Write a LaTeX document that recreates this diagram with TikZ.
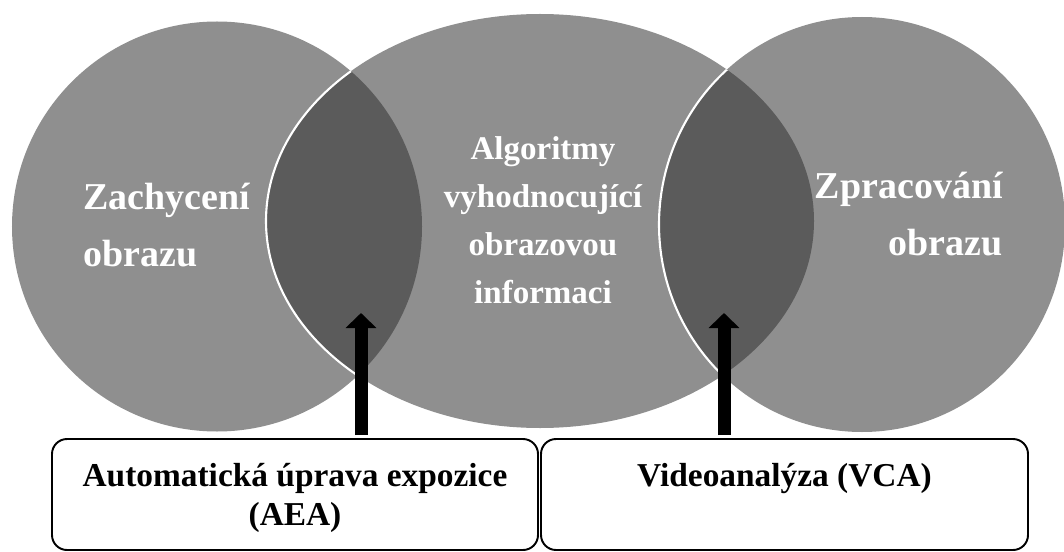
\documentclass[tikz,border=0pt]{standalone}
\usepackage{fontspec}
\setmainfont{Liberation Serif}
\usetikzlibrary{arrows.meta}
\definecolor{circlegray}{RGB}{143,143,143}
\definecolor{lensgray}{RGB}{91,91,91}
\tikzset{
  sidetext/.style={text=white, font=\fontsize{21.6}{31.9}\selectfont\bfseries},
  midtext/.style={text=white, font=\fontsize{18.8}{27.3}\selectfont\bfseries, align=center},
  boxnode/.style={draw, line width=1.1pt, rounded corners=0.3cm, fill=white, minimum height=2.22cm, text depth=0pt, align=center, font=\fontsize{19}{22.2}\selectfont\bfseries},
  bigarrow/.style={line width=0.26cm, -{Triangle[length=0.3cm,width=0.6cm]}},
}
\begin{document}
\begin{tikzpicture}
  \useasboundingbox (0,0) rectangle (21.28,11.02);
  % three sets
  \fill[circlegray] (4.34,6.49) circle (4.10);
  \fill[circlegray] (10.80,6.60) ellipse (5.48 and 4.14);
  \fill[circlegray] (17.24,6.53) ellipse (4.06 and 4.15);
  % overlaps
  \begin{scope}
    \clip (4.34,6.49) circle (4.10);
    \fill[lensgray] (10.80,6.60) ellipse (5.48 and 4.14);
    \draw[white, line width=1.2pt] (10.80,6.60) ellipse (5.48 and 4.14);
  \end{scope}
  \begin{scope}
    \clip (10.80,6.60) ellipse (5.48 and 4.14);
    \fill[lensgray] (17.24,6.53) ellipse (4.06 and 4.15);
    \draw[white, line width=1.2pt] (17.24,6.53) ellipse (4.06 and 4.15);
  \end{scope}
  % labels
  \node[sidetext, align=left, anchor=base west, inner sep=0pt] (capture) at (1.66,5.70) {Zachycení\\obrazu};
  \node[midtext, anchor=base, inner sep=0pt] (algo) at (10.86,4.96) {Algoritmy\\vyhodnocující\\obrazovou\\informaci};
  \node[sidetext, align=right, anchor=base east, inner sep=0pt] (process) at (20.06,5.92) {Zpracování\\obrazu};
  % boxes
  \node[boxnode, minimum width=9.72cm] (aea) at (5.90,1.13) {Automatická úprava expozice\\(AEA)};
  \node[boxnode, minimum width=9.74cm] (vca) at (15.69,1.13) {Videoanalýza (VCA)\\\mbox{}};
  % arrows
  \coordinate (aeatip) at (7.22,4.76);
  \coordinate (vcatip) at (14.48,4.76);
  \draw[bigarrow] ([yshift=0.06cm]aeatip |- aea.north) -- (aeatip);
  \draw[bigarrow] ([yshift=0.06cm]vcatip |- vca.north) -- (vcatip);
\end{tikzpicture}
\end{document}
